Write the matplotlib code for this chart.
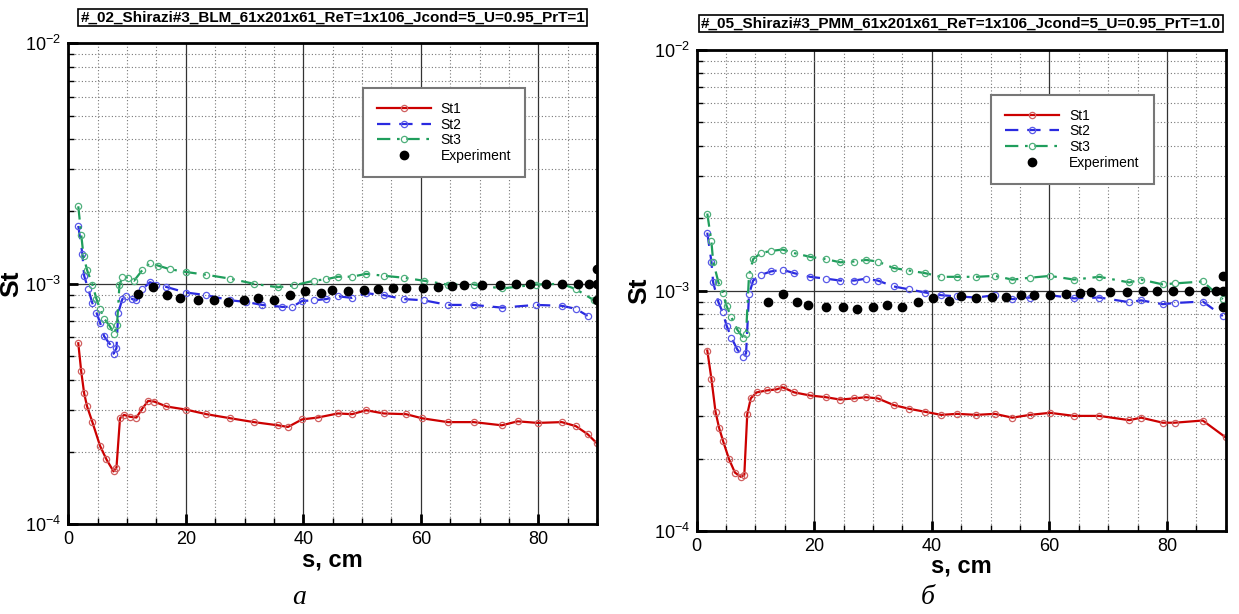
import numpy as np
import matplotlib
matplotlib.use('Agg')
import matplotlib.pyplot as plt
from matplotlib.ticker import MultipleLocator, LogLocator, NullFormatter

plt.rcParams['font.family'] = ['Liberation Sans', 'DejaVu Sans']
plt.rcParams['mathtext.fontset'] = 'custom'
plt.rcParams['mathtext.rm'] = 'Liberation Sans'
plt.rcParams['mathtext.it'] = 'Liberation Sans:italic'
plt.rcParams['mathtext.bf'] = 'Liberation Sans:bold'

# ---- panel a (BLM) ----
a_st1_x = [1.7, 2.2, 2.7, 3.2, 4.1, 5.4, 6.5, 7.7, 8.2, 8.8, 9.5, 10.5, 11.6, 12.6, 13.6, 14.6,
           16.7, 20, 23.5, 27.6, 31.6, 35.7, 37.4, 39.8, 42.5, 45.9, 48.3, 50.7, 53.7, 57.5,
           60.2, 64.6, 69.0, 73.8, 76.5, 79.9, 84.0, 86.4, 88.4, 90.0]
a_st1_y = [5.66e-4, 4.32e-4, 3.5e-4, 3.09e-4, 2.66e-4, 2.12e-4, 1.86e-4, 1.66e-4, 1.72e-4,
           2.76e-4, 2.85e-4, 2.8e-4, 2.78e-4, 3.03e-4, 3.26e-4, 3.24e-4, 3.09e-4, 3.0e-4,
           2.87e-4, 2.76e-4, 2.66e-4, 2.58e-4, 2.54e-4, 2.73e-4, 2.78e-4, 2.89e-4, 2.87e-4,
           2.98e-4, 2.89e-4, 2.87e-4, 2.76e-4, 2.66e-4, 2.66e-4, 2.58e-4, 2.68e-4, 2.64e-4,
           2.66e-4, 2.56e-4, 2.37e-4, 2.17e-4]

a_st2_x = [1.7, 2.4, 2.7, 3.4, 4.1, 4.8, 5.4, 6.1, 7.1, 7.7, 8.2, 8.5, 9.2, 9.9, 10.9, 11.6,
           12.6, 13.9, 15.0, 16.7, 20, 23.5, 27.6, 30.3, 33, 36.4, 38.1, 39.8, 41.8, 43.9,
           45.9, 48.3, 50.7, 53.7, 57.1, 60.5, 64.6, 69.0, 73.8, 79.6, 84.0, 86.4, 88.4]
a_st2_y = [1.74e-3, 1.33e-3, 1.08e-3, 9.5e-4, 8.3e-4, 7.58e-4, 6.9e-4, 6.05e-4, 5.6e-4,
           5.12e-4, 5.4e-4, 7.58e-4, 8.64e-4, 8.87e-4, 8.64e-4, 8.54e-4, 9.5e-4, 1.015e-3,
           9.93e-4, 9.7e-4, 9.2e-4, 8.97e-4, 8.54e-4, 8.4e-4, 8.17e-4, 8.02e-4, 8.02e-4,
           8.48e-4, 8.54e-4, 8.64e-4, 8.87e-4, 8.74e-4, 9.14e-4, 8.97e-4, 8.64e-4, 8.54e-4,
           8.17e-4, 8.17e-4, 7.96e-4, 8.17e-4, 8.1e-4, 7.87e-4, 7.36e-4]

a_st3_x = [1.7, 2.2, 2.6, 3.2, 4.1, 4.8, 5.4, 6.1, 7.1, 7.8, 8.3, 8.7, 9.2, 10.2, 11.2, 12.6,
           13.9, 15.3, 17.3, 20, 23.5, 27.6, 31.6, 35.7, 38.4, 41.8, 43.9, 45.9, 48.3, 50.7,
           53.7, 57.1, 60.5, 64.6, 69.0, 73.8, 79.6, 84.0, 86.4, 89.5]
a_st3_y = [2.1e-3, 1.6e-3, 1.3e-3, 1.14e-3, 9.93e-4, 8.64e-4, 7.87e-4, 7.17e-4, 6.65e-4,
           6.17e-4, 6.77e-4, 9.85e-4, 1.07e-3, 1.06e-3, 1.03e-3, 1.14e-3, 1.22e-3, 1.19e-3,
           1.15e-3, 1.12e-3, 1.09e-3, 1.05e-3, 1.0e-3, 9.67e-4, 9.85e-4, 1.03e-3, 1.045e-3,
           1.07e-3, 1.07e-3, 1.1e-3, 1.08e-3, 1.06e-3, 1.03e-3, 9.93e-4, 9.93e-4, 9.56e-4,
           9.93e-4, 1.0e-3, 9.5e-4, 8.54e-4]

a_exp_x = [11.9, 14.5, 16.8, 19.0, 22.1, 24.8, 27.2, 29.9, 32.3, 35.0, 37.8, 40.3, 43.1, 44.9,
           47.6, 50.3, 52.7, 55.3, 57.5, 60.3, 62.9, 65.3, 67.3, 70.5, 73.5, 76.2, 78.6, 81.4,
           84.0, 86.7, 88.6, 90.0, 90.0, 90.0]
a_exp_y = [9.07e-4, 9.67e-4, 8.97e-4, 8.74e-4, 8.54e-4, 8.54e-4, 8.4e-4, 8.54e-4, 8.74e-4,
           8.54e-4, 8.97e-4, 9.3e-4, 9.14e-4, 9.4e-4, 9.3e-4, 9.4e-4, 9.49e-4, 9.56e-4,
           9.56e-4, 9.56e-4, 9.67e-4, 9.78e-4, 9.85e-4, 9.85e-4, 9.85e-4, 1.0e-3, 9.96e-4,
           9.96e-4, 1.0e-3, 9.96e-4, 9.96e-4, 1.15e-3, 1.0e-3, 8.54e-4]

# ---- panel б (PMM) ----
b_x = [1.8, 2.5, 3.2, 3.8, 4.5, 5.5, 6.5, 7.5, 8.1, 8.6, 9.2, 10.2, 11.9, 13.6, 14.6, 16.6,
       19.3, 22, 24.4, 26.8, 28.8, 30.8, 33.5, 36.2, 38.9, 41.6, 44.3, 47.6, 50.7, 53.7,
       56.7, 60.1, 64.2, 68.5, 73.6, 75.6, 79.3, 81.3, 86.1, 90.0]
b_st1_y = [5.63e-4, 4.3e-4, 3.13e-4, 2.69e-4, 2.36e-4, 1.99e-4, 1.75e-4, 1.68e-4, 1.71e-4,
           3.06e-4, 3.56e-4, 3.77e-4, 3.84e-4, 3.88e-4, 3.96e-4, 3.77e-4, 3.66e-4, 3.6e-4,
           3.52e-4, 3.56e-4, 3.6e-4, 3.56e-4, 3.34e-4, 3.22e-4, 3.13e-4, 3.04e-4, 3.07e-4,
           3.04e-4, 3.07e-4, 2.96e-4, 3.04e-4, 3.1e-4, 3.01e-4, 3.01e-4, 2.89e-4, 2.96e-4,
           2.82e-4, 2.82e-4, 2.88e-4, 2.45e-4]

b_st23_x = [1.8, 2.5, 2.8, 3.7, 4.4, 5.1, 5.9, 6.9, 7.9, 8.4, 8.9, 9.6, 10.9, 12.6, 14.6, 16.6,
            19.3, 22, 24.4, 26.8, 28.8, 30.8, 33.5, 36.2, 38.9, 41.6, 44.3, 47.6, 50.7, 53.7,
            56.7, 60.1, 64.2, 68.5, 73.6, 75.6, 79.3, 81.3, 86.1, 89.5]
b_st2_y = [1.74e-3, 1.32e-3, 1.08e-3, 8.94e-4, 8.13e-4, 7.13e-4, 6.37e-4, 5.69e-4, 5.28e-4,
           5.48e-4, 9.63e-4, 1.1e-3, 1.16e-3, 1.2e-3, 1.22e-3, 1.18e-3, 1.14e-3, 1.12e-3,
           1.1e-3, 1.1e-3, 1.12e-3, 1.1e-3, 1.04e-3, 1.01e-3, 9.81e-4, 9.56e-4, 9.45e-4,
           9.35e-4, 9.56e-4, 9.21e-4, 9.35e-4, 9.56e-4, 9.28e-4, 9.35e-4, 8.94e-4, 9.1e-4,
           8.77e-4, 8.87e-4, 9.0e-4, 7.83e-4]
b_st3_y = [2.09e-3, 1.6e-3, 1.32e-3, 1.08e-3, 9.81e-4, 8.6e-4, 7.75e-4, 6.87e-4, 6.37e-4,
           6.61e-4, 1.16e-3, 1.35e-3, 1.43e-3, 1.46e-3, 1.48e-3, 1.43e-3, 1.38e-3, 1.35e-3,
           1.31e-3, 1.32e-3, 1.34e-3, 1.32e-3, 1.24e-3, 1.21e-3, 1.18e-3, 1.14e-3, 1.14e-3,
           1.14e-3, 1.15e-3, 1.11e-3, 1.13e-3, 1.15e-3, 1.11e-3, 1.14e-3, 1.08e-3, 1.11e-3,
           1.06e-3, 1.07e-3, 1.09e-3, 9.2e-4]

b_exp_x = [12.1, 14.6, 17.0, 19.0, 22.0, 24.9, 27.3, 30.0, 32.3, 35.0, 37.7, 40.2, 42.9, 44.9,
           47.6, 50.3, 52.7, 55.2, 57.4, 60.1, 62.8, 65.2, 67.0, 70.4, 73.2, 75.9, 78.3, 81.0,
           83.7, 86.4, 88.3, 89.6, 89.6, 89.6]
b_exp_y = [9.0e-4, 9.63e-4, 8.94e-4, 8.7e-4, 8.54e-4, 8.54e-4, 8.41e-4, 8.54e-4, 8.74e-4,
           8.54e-4, 8.94e-4, 9.28e-4, 9.04e-4, 9.45e-4, 9.28e-4, 9.38e-4, 9.38e-4, 9.56e-4,
           9.56e-4, 9.56e-4, 9.7e-4, 9.81e-4, 9.85e-4, 9.89e-4, 9.89e-4, 1.0e-3, 1.0e-3,
           1.0e-3, 1.0e-3, 9.93e-4, 9.93e-4, 1.15e-3, 1.0e-3, 8.54e-4]

titles = ['#_02_Shirazi#3_BLM_61x201x61_ReT=1x106_Jcond=5_U=0.95_PrT=1',
          '#_05_Shirazi#3_PMM_61x201x61_ReT=1x106_Jcond=5_U=0.95_PrT=1.0']
captions = ['а', 'б']

red = '#cc0000'
blue = '#2a2ae0'
green = '#1f9e5c'

W, H = 1239, 614
fig = plt.figure(figsize=(W / 100, H / 100), dpi=100)

def px_axes(l, t, r, b):
    return fig.add_axes([l / W, 1 - b / H, (r - l) / W, (b - t) / H])

ax1 = px_axes(68.3, 43.3, 597, 524.3)
ax2 = px_axes(696.7, 50, 1225.7, 531)

panels = [
    (ax1, (a_st1_x, a_st1_y), (a_st2_x, a_st2_y), (a_st3_x, a_st3_y), (a_exp_x, a_exp_y)),
    (ax2, (b_x, b_st1_y), (b_st23_x, b_st2_y), (b_st23_x, b_st3_y), (b_exp_x, b_exp_y)),
]

for i, (ax, s1, s2, s3, ex) in enumerate(panels):
    ax.set_yscale('log')
    ax.set_xlim(0, 90)
    ax.set_ylim(1e-4, 1e-2)

    ax.plot(s1[0], s1[1], color=red, lw=1.6, marker='o', ms=4.5, mfc='none',
            mec='#d06060', mew=0.9, label='St1')
    ax.plot(s2[0], s2[1], color=blue, lw=1.6, ls=(0, (6, 4)), marker='o', ms=4.5,
            mfc='none', mec='#5a5ae8', mew=0.9, label='St2')
    ax.plot(s3[0], s3[1], color=green, lw=1.6, ls=(0, (6, 3, 1.2, 3)), marker='o', ms=4.5,
            mfc='none', mec='#4fb07c', mew=0.9, label='St3')
    ax.plot(ex[0], ex[1], ls='none', marker='o', ms=6, color='black', label='Experiment')

    ax.xaxis.set_major_locator(MultipleLocator(20))
    ax.xaxis.set_minor_locator(MultipleLocator(5))
    ax.yaxis.set_major_locator(LogLocator(base=10, numticks=5))
    ax.yaxis.set_minor_locator(LogLocator(base=10, subs=np.arange(2, 10), numticks=20))
    ax.yaxis.set_minor_formatter(NullFormatter())

    ax.grid(True, which='major', color='#333333', lw=0.9, ls='-')
    ax.grid(True, which='minor', color='#777777', lw=0.8, ls=(0, (1, 2)))
    ax.set_axisbelow(True)

    ax.tick_params(which='major', direction='in', length=7, width=2, labelsize=13, pad=5)
    ax.tick_params(which='minor', direction='in', length=4, width=1)
    for sp in ax.spines.values():
        sp.set_linewidth(2)

    ax.set_xlabel('s, cm', fontsize=17, fontweight='bold', labelpad=0)
    ax.set_ylabel('St', fontsize=19, fontweight='bold')
    ax.yaxis.set_label_coords(-0.086, 0.5)

    leg = ax.legend(loc='upper left', bbox_to_anchor=(0.557, 0.907), fontsize=10,
                    handlelength=3.9, numpoints=1, borderpad=1.0, labelspacing=0.12,
                    fancybox=False, framealpha=1, edgecolor='#777777', borderaxespad=0,
                    handletextpad=0.7)
    leg.get_frame().set_linewidth(1.5)

    bb = ax.get_position()
    cx = bb.x0 + bb.width / 2
    ty = [1 - 17.5 / H, 1 - 23.5 / H][i]
    fig.text(cx, ty, titles[i], ha='center', va='center', fontsize=11, fontweight='bold',
             bbox=dict(boxstyle='square,pad=0.12', fc='white', ec='black', lw=1.2))
    fig.text(cx - 0.027, 1 - 597 / H, captions[i], ha='center', va='center', fontsize=20,
             style='italic', family='Liberation Serif')

fig.savefig('out.png', dpi=100)
